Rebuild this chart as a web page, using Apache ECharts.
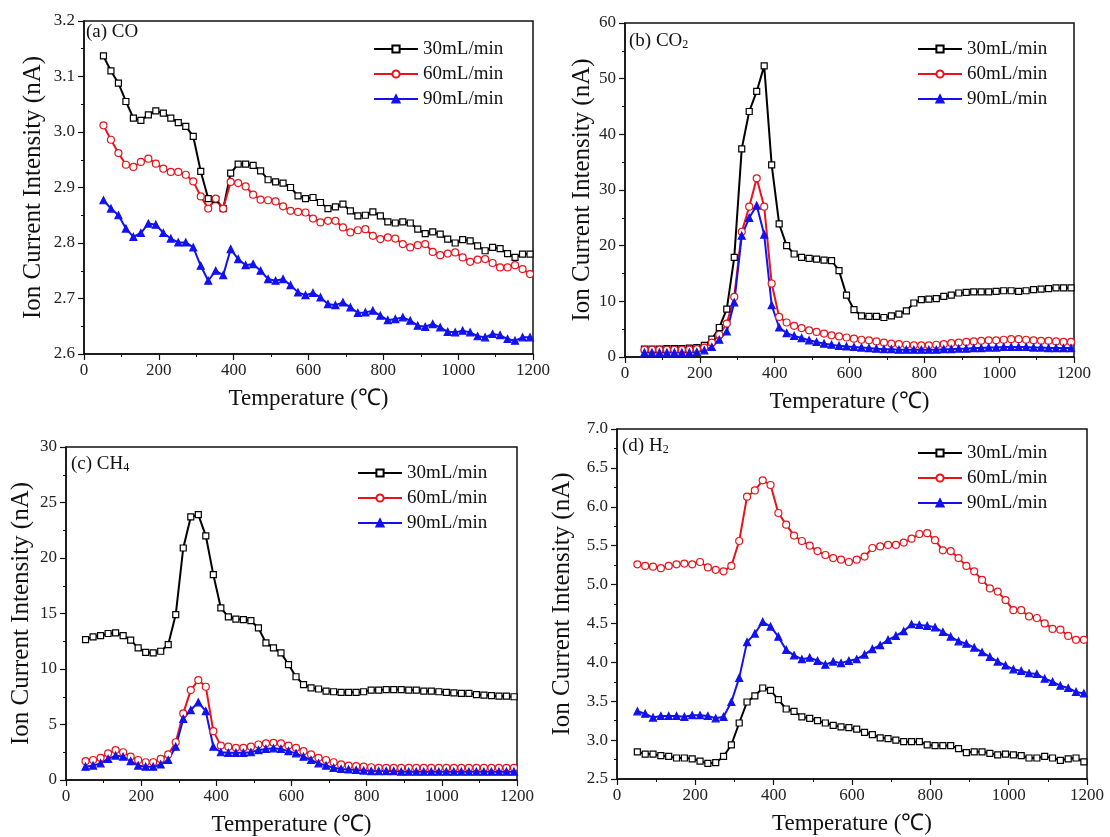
<!DOCTYPE html>
<html>
<head>
<meta charset="utf-8">
<script src="https://cdn.jsdelivr.net/npm/echarts@6/dist/echarts.min.js"></script>
<style>
  html, body { margin: 0; padding: 0; background: #fff; }
  #chart { width: 1110px; height: 837px; }
</style>
</head>
<body>
<div id="chart"></div>
<script>
// temperatures (℃) of the sampled points, shared by all panels
const temps = [52, 72, 92, 112, 132, 152, 172, 192, 212, 232,
  252, 272, 292, 312, 332, 352, 372, 392, 412, 432,
  452, 472, 492, 512, 532, 552, 572, 592, 612, 632,
  652, 672, 692, 712, 732, 752, 772, 792, 812, 832,
  852, 872, 892, 912, 932, 952, 972, 992, 1012, 1032,
  1052, 1072, 1092, 1112, 1132, 1152, 1172, 1192];

const flows = ["30mL/min", "60mL/min", "90mL/min"];
const xTicks = [0, 200, 400, 600, 800, 1000, 1200];

// (a) CO
const coA30 = [3.137, 3.110, 3.088, 3.055, 3.025, 3.021, 3.031, 3.038, 3.034, 3.025,
  3.017, 3.010, 2.992, 2.929, 2.880, 2.878, 2.862, 2.926, 2.942, 2.942,
  2.940, 2.930, 2.914, 2.910, 2.908, 2.900, 2.885, 2.880, 2.882, 2.873,
  2.862, 2.865, 2.870, 2.858, 2.849, 2.850, 2.856, 2.849, 2.838, 2.836,
  2.838, 2.836, 2.825, 2.817, 2.820, 2.816, 2.807, 2.800, 2.806, 2.804,
  2.795, 2.786, 2.792, 2.790, 2.781, 2.774, 2.780, 2.780];
const coA60 = [3.012, 2.986, 2.962, 2.941, 2.937, 2.946, 2.952, 2.943, 2.934, 2.928,
  2.928, 2.923, 2.911, 2.884, 2.862, 2.880, 2.862, 2.910, 2.908, 2.902,
  2.887, 2.878, 2.877, 2.875, 2.866, 2.858, 2.856, 2.855, 2.844, 2.837,
  2.840, 2.840, 2.828, 2.819, 2.823, 2.825, 2.813, 2.807, 2.810, 2.808,
  2.798, 2.792, 2.796, 2.798, 2.784, 2.778, 2.781, 2.783, 2.774, 2.766,
  2.770, 2.771, 2.764, 2.756, 2.756, 2.760, 2.753, 2.744];
const coA90 = [2.877, 2.862, 2.850, 2.826, 2.811, 2.818, 2.835, 2.833, 2.818, 2.808,
  2.801, 2.801, 2.792, 2.759, 2.732, 2.750, 2.742, 2.789, 2.771, 2.760,
  2.762, 2.750, 2.735, 2.732, 2.735, 2.724, 2.711, 2.706, 2.710, 2.702,
  2.690, 2.688, 2.693, 2.684, 2.674, 2.675, 2.678, 2.669, 2.661, 2.663,
  2.666, 2.660, 2.651, 2.649, 2.654, 2.648, 2.640, 2.639, 2.642, 2.639,
  2.632, 2.630, 2.636, 2.634, 2.627, 2.624, 2.630, 2.630];

// (b) CO2
const co2B30 = [1.4, 1.4, 1.4, 1.5, 1.5, 1.5, 1.6, 1.7, 2.1, 3.2,
  5.3, 8.6, 17.9, 37.4, 44.1, 47.7, 52.3, 34.5, 23.9, 20.0,
  18.5, 17.9, 17.7, 17.6, 17.4, 17.3, 15.5, 11.1, 8.5, 7.4,
  7.3, 7.3, 7.1, 7.4, 7.7, 8.3, 9.7, 10.3, 10.4, 10.5,
  10.9, 11.1, 11.5, 11.6, 11.7, 11.7, 11.7, 11.8, 11.9, 11.9,
  11.8, 11.9, 12.1, 12.2, 12.3, 12.4, 12.4, 12.4];
const co2B60 = [1.3, 1.3, 1.3, 1.3, 1.3, 1.3, 1.3, 1.4, 1.7, 2.6,
  4.0, 6.0, 10.8, 22.5, 27.0, 32.1, 27.0, 13.2, 7.2, 6.2,
  5.6, 5.2, 4.8, 4.5, 4.2, 3.9, 3.7, 3.5, 3.3, 3.1,
  3.0, 2.8, 2.6, 2.4, 2.3, 2.2, 2.1, 2.1, 2.1, 2.2,
  2.3, 2.5, 2.6, 2.7, 2.8, 2.9, 3.0, 3.0, 3.1, 3.2,
  3.2, 3.1, 3.0, 2.9, 2.9, 2.8, 2.7, 2.7];
const co2B90 = [0.8, 0.8, 0.8, 0.8, 0.8, 0.8, 0.8, 0.9, 1.2, 1.8,
  3.1, 4.6, 9.8, 21.8, 25.0, 27.2, 22.0, 9.3, 5.3, 4.3,
  3.8, 3.4, 3.0, 2.7, 2.4, 2.2, 2.0, 1.9, 1.8, 1.7,
  1.6, 1.5, 1.4, 1.4, 1.3, 1.3, 1.3, 1.3, 1.3, 1.3,
  1.4, 1.4, 1.5, 1.5, 1.6, 1.6, 1.7, 1.7, 1.8, 1.8,
  1.8, 1.8, 1.7, 1.7, 1.6, 1.6, 1.6, 1.6];

// (c) CH4
const ch4C30 = [12.65, 12.9, 13.0, 13.2, 13.25, 13.0, 12.6, 11.9, 11.5, 11.45,
  11.6, 12.2, 14.9, 20.9, 23.7, 23.9, 22.0, 18.5, 15.5, 14.7,
  14.5, 14.45, 14.35, 13.7, 12.35, 11.9, 11.45, 10.4, 9.3, 8.6,
  8.3, 8.2, 8.0, 7.95, 7.9, 7.9, 7.9, 7.95, 8.1, 8.1,
  8.15, 8.15, 8.15, 8.1, 8.1, 8.0, 8.0, 7.95, 7.9, 7.85,
  7.8, 7.8, 7.7, 7.65, 7.6, 7.55, 7.55, 7.5];
const ch4C60 = [1.7, 1.8, 2.0, 2.4, 2.7, 2.5, 2.1, 1.8, 1.6, 1.6,
  1.9, 2.3, 3.4, 6.0, 8.1, 9.0, 8.4, 4.4, 3.1, 3.0,
  2.9, 2.9, 3.0, 3.2, 3.3, 3.35, 3.3, 3.1, 2.9, 2.6,
  2.3, 2.0, 1.8, 1.6, 1.4, 1.3, 1.25, 1.2, 1.15, 1.1,
  1.1, 1.1, 1.1, 1.1, 1.1, 1.1, 1.1, 1.1, 1.1, 1.1,
  1.1, 1.1, 1.1, 1.1, 1.1, 1.1, 1.1, 1.1];
const ch4C90 = [1.2, 1.3, 1.5, 1.9, 2.2, 2.1, 1.7, 1.3, 1.2, 1.2,
  1.4, 1.8, 3.0, 5.5, 6.3, 7.0, 6.2, 3.0, 2.5, 2.45,
  2.45, 2.45, 2.5, 2.7, 2.8, 2.85, 2.8, 2.6, 2.4, 2.1,
  1.8, 1.5, 1.3, 1.1, 1.0, 0.95, 0.9, 0.85, 0.8, 0.8,
  0.8, 0.8, 0.75, 0.75, 0.75, 0.75, 0.75, 0.75, 0.75, 0.75,
  0.75, 0.75, 0.75, 0.75, 0.75, 0.75, 0.75, 0.75];

// (d) H2
const h2D30 = [2.85, 2.82, 2.82, 2.80, 2.79, 2.77, 2.77, 2.76, 2.73, 2.70,
  2.71, 2.79, 2.94, 3.22, 3.49, 3.57, 3.67, 3.64, 3.52, 3.40,
  3.37, 3.30, 3.28, 3.25, 3.22, 3.19, 3.17, 3.16, 3.14, 3.10,
  3.07, 3.03, 3.02, 3.00, 2.98, 2.98, 2.98, 2.94, 2.93, 2.93,
  2.93, 2.89, 2.84, 2.85, 2.85, 2.83, 2.81, 2.82, 2.81, 2.80,
  2.77, 2.77, 2.79, 2.77, 2.74, 2.76, 2.77, 2.72];
const h2D60 = [5.26, 5.24, 5.23, 5.21, 5.24, 5.26, 5.27, 5.26, 5.29, 5.22,
  5.19, 5.17, 5.24, 5.56, 6.13, 6.21, 6.34, 6.28, 5.92, 5.77,
  5.63, 5.56, 5.50, 5.43, 5.38, 5.34, 5.32, 5.29, 5.32, 5.36,
  5.47, 5.49, 5.51, 5.51, 5.54, 5.59, 5.65, 5.66, 5.57, 5.44,
  5.43, 5.34, 5.24, 5.17, 5.06, 4.95, 4.91, 4.80, 4.67, 4.67,
  4.59, 4.57, 4.50, 4.43, 4.42, 4.34, 4.29, 4.29];
const h2D90 = [3.37, 3.34, 3.29, 3.31, 3.31, 3.31, 3.30, 3.32, 3.32, 3.31,
  3.28, 3.30, 3.49, 3.80, 4.26, 4.37, 4.52, 4.46, 4.33, 4.16,
  4.09, 4.04, 4.06, 4.02, 3.97, 4.01, 3.99, 4.02, 4.04, 4.10,
  4.17, 4.22, 4.29, 4.34, 4.40, 4.49, 4.48, 4.47, 4.45, 4.39,
  4.33, 4.27, 4.24, 4.19, 4.13, 4.07, 4.01, 3.96, 3.91, 3.89,
  3.86, 3.85, 3.79, 3.75, 3.70, 3.67, 3.62, 3.60];

const serif = "'Liberation Serif', 'Times New Roman', serif";
const ink = "#111";

// panel layout: grid box, y range, label/legend spots
const panels = [
  { grid: [84, 21, 449, 333], y: [2.6, 3.2, 0.1], dec: 1, yGap: 38, tag: "{t|(a) CO}", tagPos: [86, 23], leg: [373, 39], data: [coA30, coA60, coA90] },
  { grid: [625, 23, 449, 334], y: [0, 60, 10], dec: 0, yGap: 30, tag: "{t|(b) CO}{s|2}", tagPos: [629, 32], leg: [917, 39], data: [co2B30, co2B60, co2B90] },
  { grid: [66, 447, 451, 334], y: [0, 30, 5], dec: 0, yGap: 32, tag: "{t|(c) CH}{s|4}", tagPos: [71, 455], leg: [357, 463], data: [ch4C30, ch4C60, ch4C90] },
  { grid: [617, 429, 470, 350], y: [2.5, 7.0, 0.5], dec: 1, yGap: 42, tag: "{t|(d) H}{s|2}", tagPos: [622, 437], leg: [917, 443], data: [h2D30, h2D60, h2D90] }
];

const looks = [
  { symbol: "rect", size: 6, color: "#000", fill: "#fff" },
  { symbol: "circle", size: 7, color: "#e8141b", fill: "#fff" },
  { symbol: "triangle", size: 7, color: "#1212ee", fill: "#1212ee" }
];

const axisCommon = {
  axisLine: { lineStyle: { color: ink, width: 1.5 } },
  axisTick: { length: 6, lineStyle: { color: ink, width: 1.2 } },
  minorTick: { show: true, splitNumber: 2, length: 3, lineStyle: { color: ink, width: 1 } },
  splitLine: { show: false }
};

const option = {
  animation: false,
  backgroundColor: "#fff",
  grid: panels.map(p => ({
    left: p.grid[0], top: p.grid[1], width: p.grid[2], height: p.grid[3],
    show: true, borderColor: ink, borderWidth: 1.5
  })),
  xAxis: panels.map((p, i) => ({
    ...axisCommon,
    type: "value", gridIndex: i,
    min: xTicks[0], max: xTicks[xTicks.length - 1], interval: xTicks[1] - xTicks[0],
    name: "Temperature (℃)", nameLocation: "middle", nameGap: 33,
    nameTextStyle: { fontFamily: serif, fontSize: 23, color: ink },
    axisLabel: { fontFamily: serif, fontSize: 17, color: "#222", margin: 8, formatter: v => String(v) }
  })),
  yAxis: panels.map((p, i) => ({
    ...axisCommon,
    type: "value", gridIndex: i,
    min: p.y[0], max: p.y[1], interval: p.y[2],
    name: "Ion Current Intensity (nA)", nameLocation: "middle", nameGap: p.yGap,
    nameTextStyle: { fontFamily: serif, fontSize: 25, color: ink },
    axisLabel: { fontFamily: serif, fontSize: 17, color: "#222", margin: 9, formatter: v => v.toFixed(p.dec) }
  })),
  title: panels.map(p => ({
    text: p.tag, left: p.tagPos[0], top: p.tagPos[1], padding: 0,
    textStyle: {
      fontWeight: "normal",
      rich: {
        t: { fontFamily: serif, fontSize: 19, fontWeight: "normal", color: ink },
        s: { fontFamily: serif, fontSize: 12, fontWeight: "normal", color: ink, verticalAlign: "bottom" }
      }
    }
  })),
  legend: panels.map(p => ({
    orient: "vertical", left: p.leg[0], top: p.leg[1],
    itemWidth: 44, itemHeight: 9, itemGap: 5, padding: 0,
    selectedMode: false,
    textStyle: { fontFamily: serif, fontSize: 19, color: ink, lineHeight: 20 },
    data: flows
  })),
  series: []
};

panels.forEach((p, gi) => {
  p.data.forEach((vals, k) => {
    const lk = looks[k];
    option.series.push({
      name: flows[k],
      type: "line",
      xAxisIndex: gi,
      yAxisIndex: gi,
      symbol: lk.symbol,
      symbolSize: lk.size,
      showAllSymbol: true,
      lineStyle: { color: lk.color, width: 2 },
      itemStyle: { color: lk.fill, borderColor: lk.color, borderWidth: 1.2 },
      data: temps.map((t, i) => [t, vals[i]])
    });
  });
});

const myChart = echarts.init(document.getElementById("chart"));
myChart.setOption(option);
</script>
</body>
</html>
